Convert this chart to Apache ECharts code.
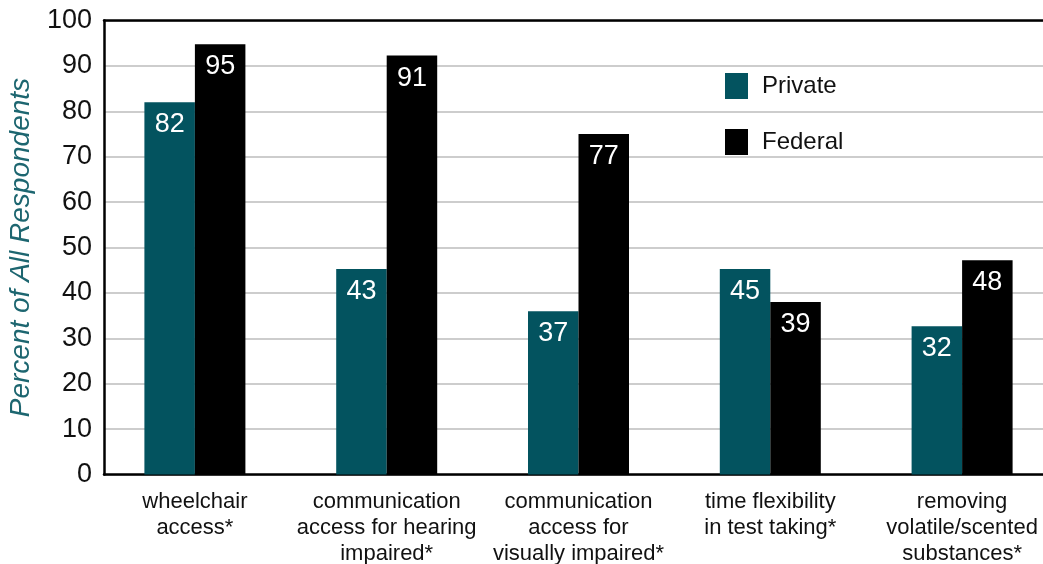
<!DOCTYPE html>
<html>
<head>
<meta charset="utf-8">
<script src="https://cdn.jsdelivr.net/npm/echarts@6/dist/echarts.min.js"></script>
<style>
html,body{margin:0;padding:0;background:#fff;}
#chart{width:1043px;height:564px;}
</style>
</head>
<body>
<div id="chart"></div>
<script>
const categories = [
  "wheelchair\naccess*",
  "communication\naccess for hearing\nimpaired*",
  "communication\naccess for\nvisually impaired*",
  "time flexibility\nin test taking*",
  "removing\nvolatile/scented\nsubstances*"
];
const seriesNames = ["Private", "Federal"];
// bar heights as drawn in the picture
const privateValues = [82, 45.3, 36, 45.3, 32.7];
const federalValues = [94.8, 92.3, 75, 38, 47.2];
// printed value labels
const privateLabels = [82, 43, 37, 45, 32];
const federalLabels = [95, 91, 77, 39, 48];
const yTicks = [0, 10, 20, 30, 40, 50, 60, 70, 80, 90, 100];

const TEAL = "#03535F";
const FONT = "'Liberation Sans', Arial, Helvetica, sans-serif";

const chart = echarts.init(document.getElementById("chart"), null, {renderer: "canvas"});

function labelFor(arr) {
  return {
    show: true,
    position: "insideTop",
    distance: 9,
    color: "#fff",
    fontSize: 27,
    fontFamily: FONT,
    formatter: p => String(arr[p.dataIndex])
  };
}

chart.setOption({
  animation: false,
  backgroundColor: "#fff",
  legend: {
    orient: "vertical",
    left: 725,
    top: 73,
    padding: 0,
    itemWidth: 23,
    itemHeight: 26,
    itemGap: 30,
    icon: "rect",
    data: seriesNames,
    textStyle: {fontSize: 24, color: "#111", fontFamily: FONT, padding: [0, 0, 0, 9]}
  },
  grid: [
    {left: 99, width: 959, top: 20.6, bottom: 89.4, containLabel: false, outerBoundsMode: "none"},
    {left: 104, right: -15, top: 20.6, bottom: 89.4, containLabel: false, outerBoundsMode: "none"}
  ],
  xAxis: [
    {
      type: "category", gridIndex: 0, data: categories,
      axisLine: {show: false}, axisTick: {show: false},
      axisLabel: {margin: 14, fontSize: 22, lineHeight: 26, color: "#111", fontFamily: FONT, interval: 0}
    },
    {
      type: "value", gridIndex: 1, position: "bottom", min: 0, max: 1,
      axisLine: {show: true, lineStyle: {color: "#000", width: 2.5}},
      axisTick: {show: false}, axisLabel: {show: false}, splitLine: {show: false}
    },
    {
      type: "value", gridIndex: 1, position: "top", min: 0, max: 1,
      axisLine: {show: true, lineStyle: {color: "#000", width: 2.5}},
      axisTick: {show: false}, axisLabel: {show: false}, splitLine: {show: false}
    }
  ],
  yAxis: [
    {type: "value", gridIndex: 0, min: 0, max: 100, show: false},
    {
      type: "value", gridIndex: 1, min: yTicks[0], max: yTicks[yTicks.length - 1], interval: 10,
      name: "Percent of All Respondents",
      nameLocation: "middle",
      nameGap: 69,
      nameTextStyle: {fontSize: 28, fontStyle: "italic", color: "#1d6670", fontFamily: FONT},
      axisLine: {show: true, lineStyle: {color: "#000", width: 2.5}},
      axisTick: {show: false},
      axisLabel: {margin: 12, fontSize: 27, color: "#111", fontFamily: FONT},
      splitLine: {show: true, lineStyle: {color: "#cdcdcd", width: 2}}
    }
  ],
  series: [
    {
      name: seriesNames[0], type: "bar", xAxisIndex: 0, yAxisIndex: 0,
      data: privateValues, barWidth: 50.5, barGap: "0%",
      itemStyle: {color: TEAL},
      label: labelFor(privateLabels)
    },
    {
      name: seriesNames[1], type: "bar", xAxisIndex: 0, yAxisIndex: 0,
      data: federalValues, barWidth: 50.5, barGap: "0%",
      itemStyle: {color: "#000"},
      label: labelFor(federalLabels)
    }
  ]
});
</script>
</body>
</html>
